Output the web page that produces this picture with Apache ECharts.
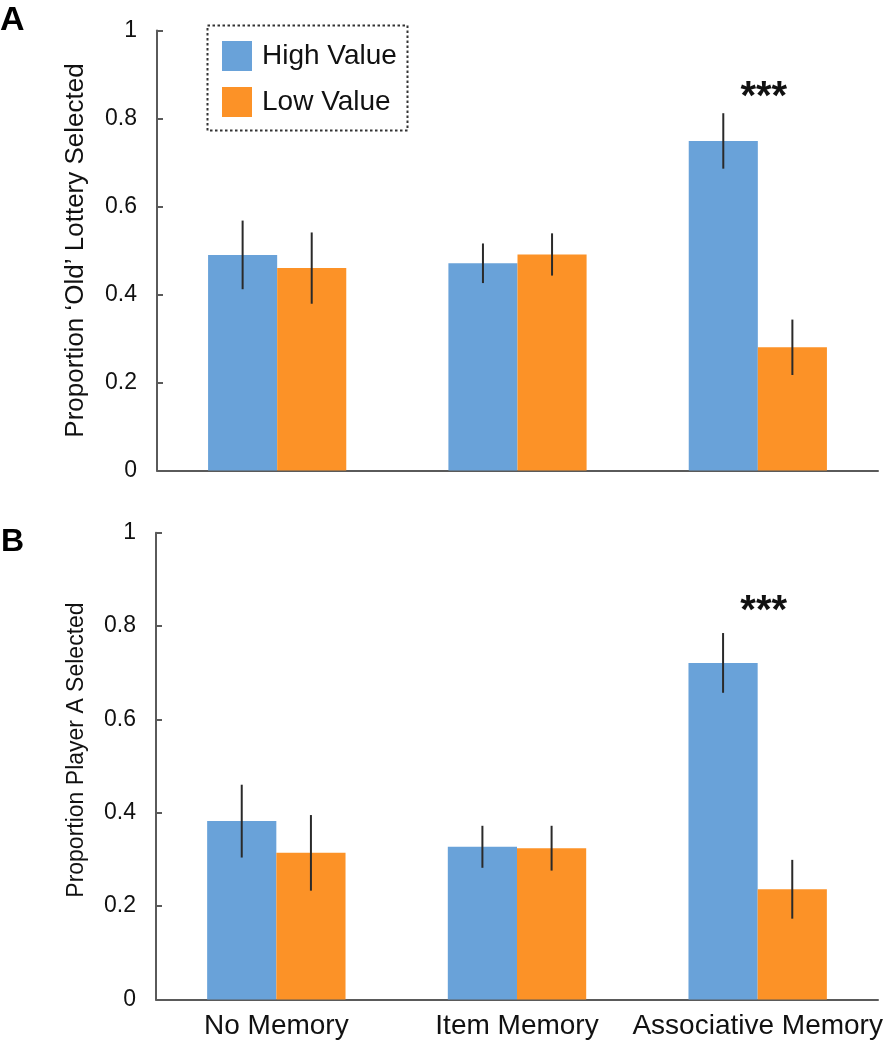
<!DOCTYPE html>
<html>
<head>
<meta charset="utf-8">
<script src="https://cdn.jsdelivr.net/npm/echarts@6/dist/echarts.min.js"></script>
<style>
html,body{margin:0;padding:0;background:#fff;}
#chart{width:895px;height:1050px;}
</style>
</head>
<body>
<div id="chart"></div>
<script>
const categories = ['No Memory', 'Item Memory', 'Associative Memory'];
const seriesNames = ['High Value', 'Low Value'];
const yTicks = [0, 0.2, 0.4, 0.6, 0.8, 1];

// Panel A: Proportion 'Old' Lottery Selected
const highA = [0.490, 0.471, 0.749];
const highAErr = [0.078, 0.045, 0.063];
const lowA = [0.460, 0.491, 0.280];
const lowAErr = [0.081, 0.048, 0.063];

// Panel B: Proportion Player A Selected
const highB = [0.382, 0.327, 0.721];
const highBErr = [0.078, 0.045, 0.064];
const lowB = [0.314, 0.324, 0.236];
const lowBErr = [0.081, 0.048, 0.063];

// significance markers: [category index, y value, text]
const sigA = [[2, 0.846, '***']];
const sigB = [[2, 0.830, '***']];

const FONT = '"Liberation Sans", Arial, Helvetica, sans-serif';
const BLUE = '#69a2d9';
const ORANGE = '#fc9227';
const AXIS = '#5a5a5a';
const CAT_GAP = 0.425;

const chart = echarts.init(document.getElementById('chart'), null, {renderer: 'canvas'});

function yAxisFor(gridIndex, name, fontSize, pad) {
  return {
    type: 'value', gridIndex: gridIndex, min: 0, max: 1, interval: 0.2,
    name: name, nameLocation: 'middle', nameGap: 68,
    nameTextStyle: {fontFamily: FONT, fontSize: fontSize, color: '#111', padding: pad},
    axisLine: {show: true, lineStyle: {color: AXIS, width: 2}},
    axisTick: {show: true, inside: true, length: 6, lineStyle: {color: AXIS, width: 2}},
    axisLabel: {
      fontFamily: FONT, fontSize: 23, color: '#111', margin: 20,
      formatter: v => (v === 0 ? '0' : v === 1 ? '1' : v.toFixed(1))
    },
    splitLine: {show: false}
  };
}
function xAxisFor(gridIndex, showLabels) {
  return {
    type: 'category', gridIndex: gridIndex, data: categories,
    axisLine: {show: true, lineStyle: {color: AXIS, width: 2}},
    axisTick: {show: false},
    axisLabel: {show: showLabels, fontFamily: FONT, fontSize: 28, color: '#111', margin: 13, interval: 0}
  };
}
function barSeries(name, data, color, idx) {
  return {
    name: name, type: 'bar', data: data, xAxisIndex: idx, yAxisIndex: idx,
    barGap: '0%', barCategoryGap: (CAT_GAP * 100) + '%',
    itemStyle: {color: color}, silent: true, animation: false
  };
}
function errSeries(vals, errs, side, idx) {
  return {
    type: 'custom', xAxisIndex: idx, yAxisIndex: idx, silent: true, animation: false,
    data: vals.map((v, i) => [i, v, errs[i]]),
    renderItem: function (params, api) {
      const i = api.value(0), v = api.value(1), e = api.value(2);
      const catW = api.size([1, 0])[0];
      const off = side * catW * (1 - CAT_GAP) / 4;
      const top = api.coord([i, v + e]);
      const bot = api.coord([i, v - e]);
      return {
        type: 'line',
        shape: {x1: top[0] + off, y1: top[1], x2: bot[0] + off, y2: bot[1]},
        style: {stroke: '#2a2a2a', lineWidth: 2}
      };
    },
    z: 5
  };
}
function sigSeries(sig, idx) {
  return {
    type: 'custom', xAxisIndex: idx, yAxisIndex: idx, silent: true, animation: false,
    data: sig,
    renderItem: function (params, api) {
      const p = api.coord([api.value(0), api.value(1)]);
      return {
        type: 'text',
        style: {
          text: sig[params.dataIndex][2], x: p[0] + 6, y: p[1],
          font: 'bold 40px ' + FONT, fill: '#111',
          textAlign: 'center', textVerticalAlign: 'middle'
        }
      };
    },
    z: 6
  };
}

const option = {
  animation: false,
  backgroundColor: '#fff',
  grid: [
    {left: 157, width: 721, top: 30.5, height: 440},
    {left: 156, width: 722, top: 532.7, height: 466.7}
  ],
  xAxis: [xAxisFor(0, false), xAxisFor(1, true)],
  yAxis: [
    yAxisFor(0, 'Proportion \u2018Old\u2019 Lottery Selected', 26, [0, 0, 0, 0]),
    yAxisFor(1, 'Proportion Player A Selected', 23, [0, 0, 0, 32])
  ],
  legend: {
    data: seriesNames, orient: 'vertical', left: 222, top: 41,
    itemWidth: 30, itemHeight: 30, itemGap: 16, icon: 'rect',
    textStyle: {fontFamily: FONT, fontSize: 28, color: '#111', padding: [0, 0, 0, 5]},
    padding: 0, selectedMode: false
  },
  series: [
    barSeries('High Value', highA, BLUE, 0),
    barSeries('Low Value', lowA, ORANGE, 0),
    barSeries('High Value', highB, BLUE, 1),
    barSeries('Low Value', lowB, ORANGE, 1),
    errSeries(highA, highAErr, -1, 0),
    errSeries(lowA, lowAErr, 1, 0),
    errSeries(highB, highBErr, -1, 1),
    errSeries(lowB, lowBErr, 1, 1),
    sigSeries(sigA, 0),
    sigSeries(sigB, 1)
  ],
  graphic: [
    {type: 'rect', shape: {x: 207.5, y: 25.5, width: 200, height: 105},
     style: {fill: 'none', stroke: '#333', lineWidth: 2, lineDash: [2.5, 2.5]}, silent: true},
    {type: 'text', left: 0, top: 4, style: {text: 'A', font: 'bold 34px ' + FONT, fill: '#000'}},
    {type: 'text', left: 1, top: 526, style: {text: 'B', font: 'bold 32px ' + FONT, fill: '#000'}}
  ]
};
chart.setOption(option);
</script>
</body>
</html>
